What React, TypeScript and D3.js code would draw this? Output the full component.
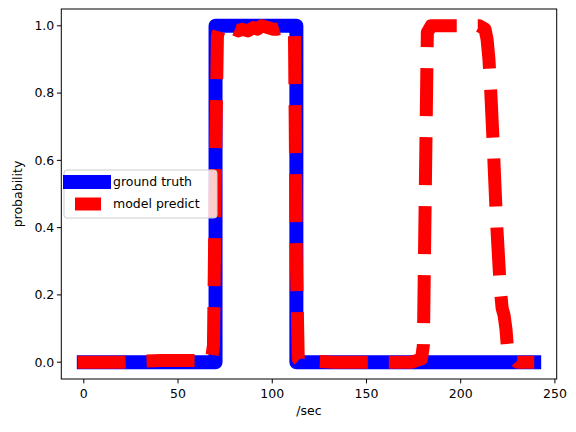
import React from "react";
import * as d3 from "d3";

const gtX = [0, 69.9, 69.9, 112.8, 112.8, 239];
const gtY = [0, 0, 1, 1, 0, 0];
const predX = [-3.3, 20, 41, 62, 67.8, 68.8, 69.9, 70.9, 72, 74, 76, 78, 80, 82, 84, 87, 90, 92, 94.4, 97.5, 100.5, 102.5, 105.6, 108.7, 110.7, 111.8, 112.8, 113.8, 114.8, 133, 153.7, 174, 179.2, 180.2, 181.2, 182.3, 184.3, 189.4, 194.6, 204.8, 209.9, 212.9, 214, 215, 216, 217, 218, 219, 220, 221, 222, 223, 224, 225, 230, 239];
const predY = [0, 0, 0.005, 0.005, 0.01, 0.05, 0.6, 0.97, 0.99, 0.98, 0.99, 0.985, 0.99, 0.985, 0.99, 0.985, 0.995, 0.99, 1.0, 0.995, 0.99, 0.99, 0.995, 0.99, 0.99, 0.97, 0.3, 0.01, 0.005, 0, 0, 0, 0.01, 0.05, 0.5, 0.98, 1.0, 1.0, 1.0, 1.0, 1.0, 0.99, 0.96, 0.9, 0.8, 0.68, 0.55, 0.42, 0.32, 0.22, 0.16, 0.14, 0.1, 0.03, 0, 0];
const xTicks = [0, 50, 100, 150, 200, 250];
const yTicks = [0, 0.2, 0.4, 0.6, 0.8, 1.0];

const L = 61.3, R = 556.7, T = 9, B = 379;

export default function App() {
  const x = d3.scaleLinear().domain([-11.95, 250.95]).range([L, R]);
  const y = d3.scaleLinear().domain([-0.05, 1.05]).range([B, T]);
  const line = d3.line<[number, number]>().x(d => x(d[0])).y(d => y(d[1]));
  const gt = line(gtX.map((v, i) => [v, gtY[i]]) as [number, number][])!;
  const pr = line(predX.map((v, i) => [v, predY[i]]) as [number, number][])!;
  const font = "DejaVu Sans, sans-serif";
  return (
    <svg width={576} height={432} style={{ position: "absolute", left: 0, top: 0 }} fontFamily={font}>
      <rect width={576} height={432} fill="white" />
      <path d={gt} fill="none" stroke="blue" strokeWidth={14} strokeLinejoin="round" strokeLinecap="square" />
      <path d={pr} fill="none" stroke="red" strokeWidth={13} strokeLinejoin="round" strokeDasharray="48,21" />
      <rect x={L} y={T} width={R - L} height={B - T} fill="none" stroke="black" strokeWidth={1} />
      {xTicks.map(t => (
        <g key={t} transform={`translate(${x(t)},${B})`}>
          <line y2={4.4} stroke="black" />
          <text y={19} textAnchor="middle" fontSize={12.5}>{t}</text>
        </g>
      ))}
      {yTicks.map(t => (
        <g key={t} transform={`translate(${L},${y(t)})`}>
          <line x2={-4.4} stroke="black" />
          <text x={-7} dy="0.35em" textAnchor="end" fontSize={12.5}>{t.toFixed(1)}</text>
        </g>
      ))}
      <text x={(L + R) / 2} y={415} textAnchor="middle" fontSize={12.5}>/sec</text>
      <text transform={`translate(22,${(T + B) / 2}) rotate(-90)`} textAnchor="middle" fontSize={12.5}>probability</text>
      <g>
        <rect x={64} y={170} width={153} height={48} rx={3} fill="white" fillOpacity={0.8} stroke="#ccc" />
        <line x1={70} x2={104} y1={182} y2={182} stroke="blue" strokeWidth={14} strokeLinecap="square" />
        <text x={113} y={182} dy="0.35em" fontSize={12.5}>ground truth</text>
        <line x1={75} x2={101} y1={204} y2={204} stroke="red" strokeWidth={13} />
        <text x={113} y={204} dy="0.35em" fontSize={12.5}>model predict</text>
      </g>
    </svg>
  );
}
